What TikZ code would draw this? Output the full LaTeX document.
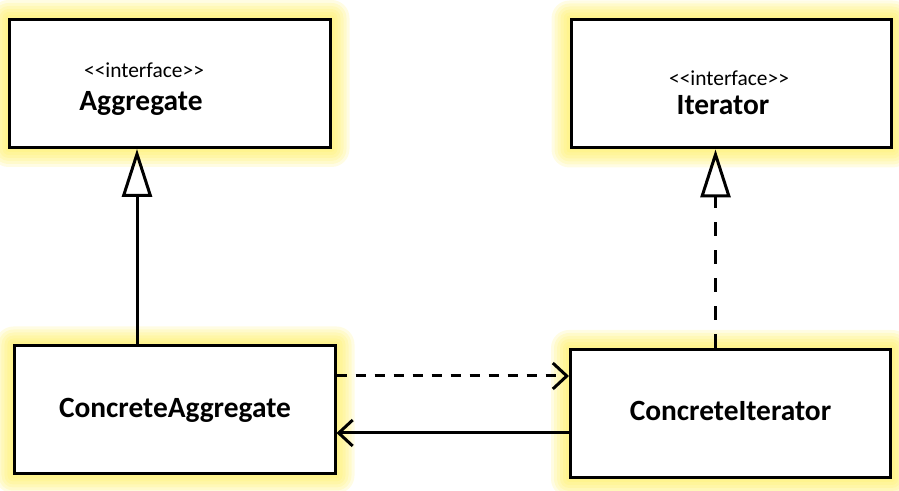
\documentclass[tikz,border=0pt]{standalone}
\usepackage{fontspec}
\setmainfont{Carlito}
\usetikzlibrary{positioning,calc,arrows.meta,backgrounds}
\definecolor{glowyellow}{HTML}{FFEE58}

\begin{document}
\begin{tikzpicture}[x=1bp,y=1bp,
  every node/.style={font=\fontsize{29.5}{31}\selectfont\bfseries},
  box/.style={draw,line width=3bp,fill=white,minimum width=320bp,minimum height=128bp,inner sep=0pt},
  stereo/.style={font=\fontsize{21.5}{23}\selectfont},
  conn/.style={line width=3bp},
  inherit/.style={conn,-{Triangle[open,length=48bp,width=30bp]}},
  uses/.style={conn,-{Straight Barb[length=14bp,width=26bp]}}]
\useasboundingbox (0,0) rectangle (899,491);
\node[box] (agg) at (170,407.5) {};
\node[box] (itr) at (731,407) {};
\node[box] (cagg) at (175,81) {};
\node[box] (citr) at (730.5,77.5) {};
\node[stereo] (aggst) at ([xshift=-26bp,yshift=13bp]agg.center) {{<}{<}interface{>}{>}};
\node (aggnm) at ([xshift=-29bp,yshift=-20bp]agg.center) {Aggregate};
\node[stereo] (itrst) at ([xshift=-2bp,yshift=6bp]itr.center) {{<}{<}interface{>}{>}};
\node (itrnm) at ([xshift=-8bp,yshift=-21bp]itr.center) {Iterator};
\node (caggnm) at (cagg.center) {ConcreteAggregate};
\node (citrnm) at ([yshift=3bp]citr.center) {ConcreteIterator};
% yellow glow round the boxes
\begin{scope}[on background layer]
\foreach \n in {agg,itr,cagg,citr}
  \foreach \d in {3,6,...,18}
    \fill[glowyellow,opacity=0.17,rounded corners=\d bp] ([shift={(-\d bp,-\d bp)}]\n.south west) rectangle ([shift={(\d bp,\d bp)}]\n.north east);
\end{scope}
\draw[inherit] ([xshift=-38bp]cagg.north) -- ([xshift=-38bp]cagg.north |- agg.south);
\draw[inherit,dash pattern=on 14bp off 14bp] ([xshift=-15bp]citr.north) -- ([xshift=-15bp]citr.north |- itr.south);
\draw[uses,dash pattern=on 10bp off 9bp] ([yshift=34bp]cagg.east) -- ([yshift=34bp]cagg.east -| citr.west);
\draw[uses] ([yshift=-23bp]cagg.east -| citr.west) -- ([yshift=-23bp]cagg.east);
\end{tikzpicture}
\end{document}
